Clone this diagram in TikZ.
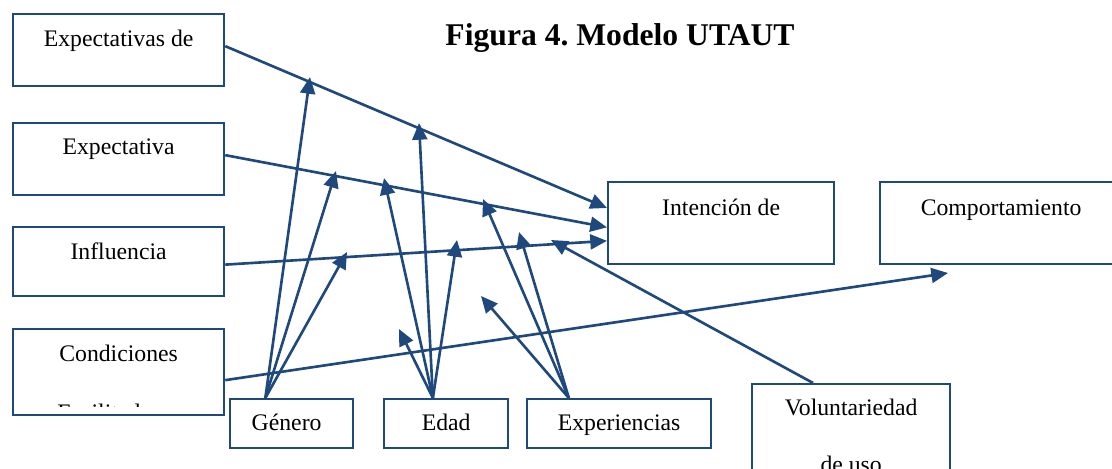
\documentclass[tikz,border=0pt]{standalone}
\usepackage{fontspec}
\setmainfont{Liberation Serif}
\usetikzlibrary{arrows.meta,calc}
\definecolor{utblue}{RGB}{31,73,125}

\begin{document}
\begin{tikzpicture}[x=0.02cm,y=-0.02cm,
  box/.style={draw=utblue,line width=1.3pt,anchor=north west,inner sep=0pt},
  lbl/.style={anchor=base,inner sep=0pt,font=\fontsize{13.5}{16}\selectfont},
  conn/.style={utblue,line width=1.5pt},
  link/.style={conn,-{Triangle[length=9.5pt,width=8.5pt]}}]
\useasboundingbox (0,0) rectangle (1112,468);
\clip (0,0) rectangle (1112,468);
% boxes
\node[box,minimum width=4.22cm,minimum height=1.44cm] (pe) at (12,13) {};
\node[box,minimum width=4.22cm,minimum height=1.44cm] (ee) at (12,122) {};
\node[box,minimum width=4.22cm,minimum height=1.38cm] (is) at (12,226) {};
\node[box,minimum width=4.22cm,minimum height=1.72cm] (cf) at (12,328) {};
\node[box,minimum width=2.46cm,minimum height=0.98cm] (gen) at (229,398) {};
\node[box,minimum width=2.48cm,minimum height=0.98cm] (edad) at (383,398) {};
\node[box,minimum width=3.68cm,minimum height=0.98cm] (exp) at (526,398) {};
\node[box,minimum width=3.96cm,minimum height=2cm] (vol) at (751,383) {};
\node[box,minimum width=4.52cm,minimum height=1.64cm] (int) at (607,181) {};
\node[box,minimum width=4.84cm,minimum height=1.64cm] (comp) at (879,181) {};
% texts
\node[anchor=base,inner sep=0pt,font=\fontsize{18}{22}\selectfont\bfseries] (tit) at (620,45) {Figura 4.\ Modelo UTAUT};
\node[lbl] (tpe) at ([yshift=-0.66cm]pe.north) {Expectativas de};
\node[lbl] (tee) at ([yshift=-0.64cm]ee.north) {Expectativa};
\node[lbl] (tis) at ([yshift=-0.66cm]is.north) {Influencia};
\node[lbl] (tcf) at ([yshift=-0.66cm]cf.north) {Condiciones};
\begin{scope}
\clip (cf.north west) rectangle ([yshift=0.2cm]cf.south east);
\node[lbl] (tcf2) at ([yshift=-1.2cm]tcf.base) {Facilitadoras};
\end{scope}
\node[lbl] (tgen) at ([xshift=-0.1cm,yshift=-0.64cm]gen.north) {Género};
\node[lbl] (tedad) at ([yshift=-0.64cm]edad.north) {Edad};
\node[lbl] (texp) at ([yshift=-0.64cm]exp.north) {Experiencias};
\node[lbl] (tvol) at ([yshift=-0.64cm]vol.north) {Voluntariedad};
\node[lbl] (tvol2) at ([yshift=-1.16cm]tvol.base) {de uso};
\node[lbl] (tint) at ([yshift=-0.68cm]int.north) {Intención de};
\node[lbl] (tcomp) at ([yshift=-0.68cm]comp.north) {Comportamiento};
% start and end points
\coordinate (gs) at ($(gen.north west)!0.29!(gen.north east)$);
\coordinate (es) at ($(edad.north west)!0.395!(edad.north east)$);
\coordinate (xs) at ($(exp.north west)!0.23!(exp.north east)$);
\coordinate (vs) at ($(vol.north west)!0.31!(vol.north east)$);
\coordinate (g1) at (310,77);
\coordinate (g2) at (336,171);
\coordinate (g3) at (347,252);
\coordinate (e1) at (419,123);
\coordinate (e2) at (384,178);
\coordinate (e3) at (457,240);
\coordinate (e4) at (399,329);
\coordinate (x1) at (483,199);
\coordinate (x2) at (519,232);
\coordinate (x3) at (481,296);
\coordinate (v1) at (551,240);
\coordinate (cend) at (948,273);
% main arrows
\draw[link] ([yshift=0.08cm]pe.east) -- ($(int.north west)!0.32!(int.south west)$);
\draw[link] ([yshift=0.08cm]ee.east) -- ($(int.north west)!0.55!(int.south west)$);
\draw[link] ([yshift=-0.06cm]is.east) -- ($(int.north west)!0.71!(int.south west)$);
\draw[link] ([yshift=-0.16cm]cf.east) -- (cend);
% moderators
\foreach \t in {g1,g2,g3} \draw[link] (gs) -- (\t);
\foreach \t in {e1,e2,e3,e4} \draw[link] (es) -- (\t);
\foreach \t in {x1,x2,x3} \draw[link] (xs) -- (\t);
\draw[link] (vs) -- (v1);
\end{tikzpicture}
\end{document}
